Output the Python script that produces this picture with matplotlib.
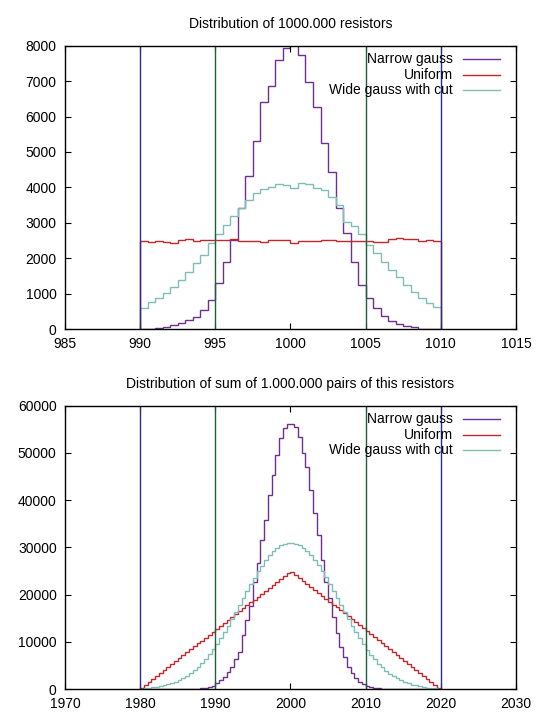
import numpy as np
import matplotlib as mpl
mpl.use("Agg")
import matplotlib.pyplot as plt

plt.rcParams['font.family'] = ['Liberation Sans', 'DejaVu Sans']
plt.rcParams['font.size'] = 10

# ~~~ single resistors, bins of 0.5 from 990 to 1010 ~~~
top_lo, top_hi, bin_w = 990.0, 1010.0, 0.5

narrow_top = [0, 0, 19, 66, 113, 160, 245, 350, 545, 830,
              1290, 1900, 2510, 3410, 4320, 5300, 6420, 6860, 7600, 7925,
              8120, 7735, 6980, 6280, 5240, 4440, 3410, 2700, 1900, 1240,
              866, 590, 370, 240, 145, 90, 47, 15, 0, 0]
uniform_top = [2484, 2447, 2494, 2447, 2418, 2512, 2531, 2484, 2522, 2503,
               2503, 2503, 2531, 2484, 2484, 2484, 2447, 2512, 2512, 2512,
               2418, 2494, 2494, 2494, 2522, 2522, 2494, 2494, 2494, 2494,
               2494, 2456, 2447, 2531, 2578, 2531, 2550, 2484, 2512, 2484]
wide_top = [583, 772, 866, 1007, 1195, 1383, 1619, 1854, 2089, 2418,
            2680, 2936, 3200, 3420, 3640, 3830, 3943, 4018, 4093, 4065,
            3971, 4112, 4093, 3971, 3920, 3740, 3510, 3030, 2910, 2690,
            2371, 2136, 1900, 1666, 1477, 1242, 1054, 866, 725, 630]

# ~~~ sum of pairs, bins of 0.5 from 1980 to 2020 ~~~
bot_lo, bot_hi = 1980.0, 2020.0

narrow_bot = [0] * 14 + [
    20, 60, 120, 210, 350, 635, 1200, 1910, 2610, 3670,
    4730, 6280, 7910, 11440, 14610, 17600, 22730, 26620, 31560, 35790,
    41090, 45300, 49560, 53090, 55200, 56130, 56130, 55560, 53440, 49900,
    47080, 42150, 37200, 32620, 27320, 22730, 19200, 15320, 11790, 8970,
    6850, 4730, 3320, 2260, 1550, 1060, 700, 430, 270, 160,
    90, 40, 15] + [0] * 13
uniform_bot = [300, 930, 1560, 2170, 2800, 3420, 4040, 4680, 5300, 5900,
               6530, 7150, 7790, 8400, 9020, 9650, 10260, 10890, 11500, 12130,
               12740, 13370, 13990, 14600, 15230, 15850, 16470, 17080, 17700, 18330,
               18950, 19560, 20180, 20810, 21420, 22040, 22660, 23290, 23900, 24530,
               24800, 24170, 23540, 22920, 22290, 21660, 21030, 20410, 19780, 19150,
               18520, 17890, 17270, 16640, 16010, 15380, 14760, 14130, 13500, 12870,
               12240, 11620, 10990, 10360, 9730, 9100, 8480, 7850, 7220, 6590,
               5960, 5340, 4710, 4080, 3450, 2820, 2200, 1570, 940, 310]
wide_bot = [50, 130, 230, 340, 470, 620, 800, 1000, 1250, 1550,
            1900, 2300, 2750, 3300, 3950, 4650, 5450, 6350, 7350, 8400,
            9550, 10800, 12100, 13450, 14850, 16300, 17800, 19300, 20750, 22200,
            23600, 24900, 26150, 27300, 28300, 29150, 29850, 30400, 30750, 30900,
            30950, 30800, 30450, 29900, 29250, 28400, 27400, 26250, 25000, 23650,
            22250, 20800, 19300, 17750, 16250, 14800, 13400, 12050, 10750, 9500,
            8350, 7300, 6300, 5400, 4600, 3900, 3250, 2700, 2250, 1850,
            1500, 1200, 960, 760, 590, 450, 320, 210, 120, 40]

labels = ['Narrow gauss', 'Uniform', 'Wide gauss with cut']
colors = ['#6e2f8e', '#c0282e', '#7cc0b4']
vline_outer = '#2a2a8a'
vline_inner = '#1f5e3a'

fig = plt.figure(figsize=(5.4, 7.2), dpi=100)
ax1 = fig.add_axes([0.1204, 0.543, 0.835, 0.3935])
ax2 = fig.add_axes([0.1204, 0.043, 0.835, 0.3935])


def panel(ax, lo, hi, series, xlim, xstep, ylim, ystep, inner, title):
    edges = np.arange(lo, hi + bin_w / 2, bin_w)
    for vals, c in zip(series, colors):
        ax.stairs(vals, edges, baseline=0, color=c, lw=1.0)
    ax.axvline(lo, color=vline_outer, lw=1.0)
    ax.axvline(hi, color=vline_outer, lw=1.0)
    ax.axvline(inner[0], color=vline_inner, lw=1.0)
    ax.axvline(inner[1], color=vline_inner, lw=1.0)
    ax.set_xlim(*xlim)
    ax.set_ylim(*ylim)
    ax.set_xticks(np.arange(xlim[0], xlim[1] + 1, xstep))
    ax.set_yticks(np.arange(ylim[0], ylim[1] + 1, ystep))
    ax.tick_params(direction='in', length=4.3, width=0.8, top=True, right=True)
    ax.tick_params(axis='x', pad=6)
    ax.tick_params(axis='y', pad=6)
    for s in ax.spines.values():
        s.set_linewidth(1.0)
    ax.set_title(title, fontsize=10, pad=13)
    # gnuplot style key, text right aligned, sample line on the right
    for i, (lab, c) in enumerate(zip(labels, colors)):
        yy = 0.952 - i * 0.054
        ax.text(0.860, yy, lab, ha='right', va='center', transform=ax.transAxes)
        ax.plot([0.882, 0.9645], [yy, yy], color=c, lw=1.0,
                transform=ax.transAxes)


panel(ax1, top_lo, top_hi, [narrow_top, uniform_top, wide_top],
      (985, 1015), 5, (0, 8000), 1000, (995, 1005),
      'Distribution of 1000.000 resistors')
panel(ax2, bot_lo, bot_hi, [narrow_bot, uniform_bot, wide_bot],
      (1970, 2030), 10, (0, 60000), 10000, (1990, 2010),
      'Distribution of sum of 1.000.000 pairs of this resistors')

fig.savefig('out.png', dpi=100)
